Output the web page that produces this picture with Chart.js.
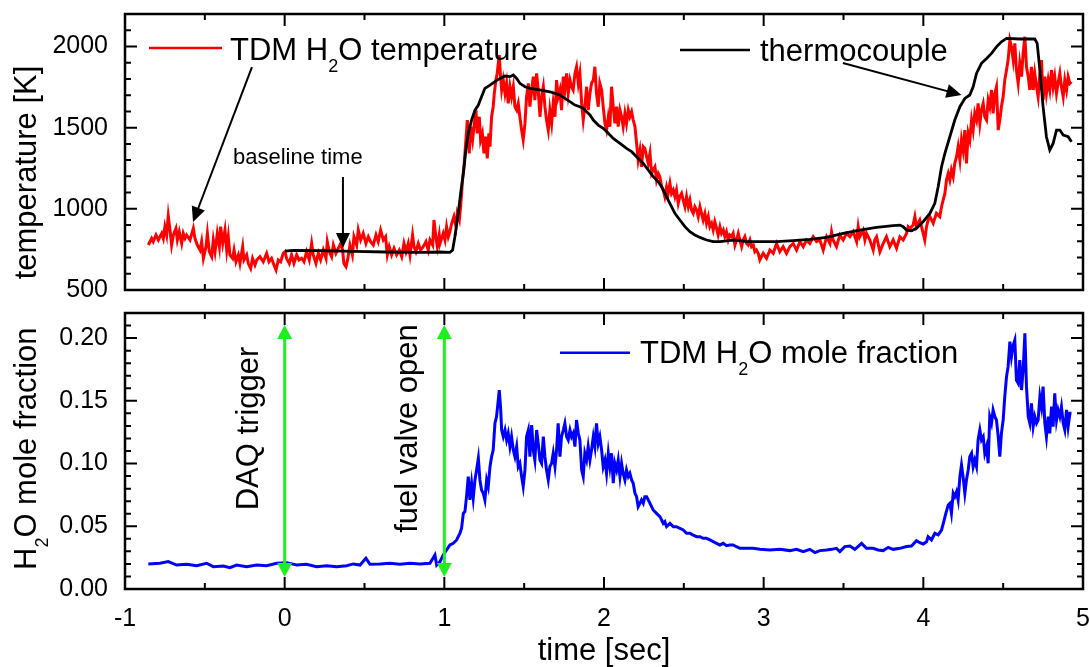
<!DOCTYPE html>
<html>
<head>
<meta charset="utf-8">
<title>TDM H2O temperature and mole fraction</title>
<script src="https://cdn.jsdelivr.net/npm/chart.js@4.4.1/dist/chart.umd.min.js"></script>
<style>
  html, body { margin: 0; padding: 0; background: #fff; }
  #wrap { position: relative; width: 1090px; height: 667px; overflow: hidden; background: #fff; }
  #wrap canvas { position: absolute; left: 0; }
  #tempCanvas { top: 0; }
  #fracCanvas { top: 300px; }
</style>
</head>
<body>
<div id="wrap">
  <canvas id="tempCanvas" width="1090" height="300"></canvas>
  <canvas id="fracCanvas" width="1090" height="367"></canvas>
</div>
<script>
const FONT = '"Liberation Sans", Arial, Helvetica, sans-serif';

// ---- axes ----
const timeRange = [-1, 5];
const timeMajorTicks = [-1, 0, 1, 2, 3, 4, 5];
const timeMinorStep = 0.5;

const tempRange = [500, 2200];
const tempMajorTicks = [500, 1000, 1500, 2000];
const tempMinorStep = 100;

const fracRange = [0, 0.22];
const fracMajorTicks = [0, 0.05, 0.10, 0.15, 0.20];
const fracMinorStep = 0.01;

// ---- series: [time (s), value] ----
const tdmTemperature = [
  [-0.854,777],[-0.833,818],[-0.823,798],[-0.806,839],[-0.791,808],[-0.770,849],[-0.760,818],[-0.750,890],[-0.739,839],[-0.729,956],
  [-0.718,869],[-0.708,777],[-0.697,839],[-0.681,880],[-0.672,808],[-0.660,859],[-0.645,787],[-0.635,849],[-0.624,818],[-0.614,839],
  [-0.593,808],[-0.572,880],[-0.562,818],[-0.547,777],[-0.530,746],[-0.520,798],[-0.509,695],[-0.493,767],[-0.484,849],[-0.472,736],
  [-0.457,705],[-0.447,808],[-0.436,736],[-0.422,849],[-0.409,767],[-0.401,890],[-0.388,787],[-0.374,869],[-0.363,746],[-0.353,828],
  [-0.343,716],[-0.326,695],[-0.317,746],[-0.305,674],[-0.290,716],[-0.280,664],[-0.263,767],[-0.255,685],[-0.238,716],[-0.228,664],
  [-0.213,633],[-0.201,695],[-0.186,654],[-0.175,685],[-0.155,705],[-0.134,674],[-0.113,726],[-0.098,674],[-0.082,695],[-0.067,654],
  [-0.054,623],[-0.040,685],[-0.025,674],[-0.009,726],[0.002,736],[0.012,695],[0.029,664],[0.043,716],[0.058,664],[0.075,716],
  [0.090,685],[0.106,695],[0.121,674],[0.137,736],[0.154,685],[0.169,787],[0.179,716],[0.196,664],[0.211,726],[0.225,685],
  [0.242,746],[0.259,695],[0.267,798],[0.280,736],[0.294,705],[0.305,777],[0.321,726],[0.336,757],[0.351,787],[0.363,746],
  [0.371,664],[0.384,644],[0.394,685],[0.409,777],[0.424,716],[0.434,828],[0.451,777],[0.461,869],[0.476,808],[0.492,849],
  [0.509,787],[0.524,828],[0.538,798],[0.555,777],[0.572,839],[0.586,798],[0.601,869],[0.618,808],[0.632,828],[0.643,716],
  [0.655,767],[0.670,716],[0.685,757],[0.701,716],[0.718,746],[0.733,705],[0.747,787],[0.760,736],[0.774,787],[0.785,716],
  [0.801,839],[0.810,767],[0.822,736],[0.837,787],[0.851,746],[0.868,767],[0.885,798],[0.899,746],[0.910,808],[0.927,777],
  [0.935,931],[0.948,818],[0.956,767],[0.968,839],
  [0.973,787],[0.993,849],[1.004,808],[1.014,890],[1.025,828],[1.035,859],[1.046,911],[1.060,952],[1.073,890],[1.081,972],
  [1.094,931],[1.102,1013],[1.114,1177],[1.123,1259],[1.135,1424],[1.144,1547],[1.156,1342],[1.165,1506],[1.177,1424],[1.188,1526],
  [1.198,1608],[1.206,1465],[1.219,1567],[1.227,1424],[1.238,1465],[1.248,1342],[1.258,1444],[1.269,1311],[1.279,1465],[1.286,1383],
  [1.296,1567],[1.306,1629],[1.313,1711],[1.323,1793],[1.331,1834],[1.338,1896],[1.344,1947],[1.352,1814],[1.359,1732],[1.369,1793],
  [1.380,1711],[1.390,1773],[1.400,1649],[1.411,1752],[1.421,1690],[1.432,1752],[1.442,1629],[1.453,1608],[1.463,1649],[1.473,1567],
  [1.484,1485],[1.494,1424],[1.505,1526],[1.515,1690],[1.526,1773],[1.536,1629],[1.547,1732],[1.557,1814],[1.567,1670],[1.578,1834],
  [1.588,1732],[1.599,1567],[1.609,1690],[1.620,1752],[1.630,1629],[1.640,1547],[1.651,1485],[1.661,1608],[1.672,1526],[1.682,1649],
  [1.693,1567],[1.703,1793],[1.713,1690],[1.724,1732],[1.734,1608],[1.745,1814],[1.755,1732],[1.766,1834],[1.776,1711],[1.787,1793],
  [1.797,1752],[1.807,1732],[1.818,1834],[1.828,1875],[1.839,1773],[1.849,1834],[1.860,1649],[1.870,1547],[1.880,1629],[1.891,1752],
  [1.901,1608],[1.912,1711],[1.922,1773],[1.933,1793],[1.943,1875],[1.953,1711],[1.964,1629],[1.974,1773],[1.985,1732],[1.995,1629],
  [2.006,1526],[2.016,1485],[2.027,1567],[2.037,1506],[2.047,1752],[2.058,1629],[2.068,1526],[2.079,1629],[2.089,1506],[2.100,1608],
  [2.110,1567],[2.120,1506],[2.131,1588],[2.141,1526],[2.152,1608],[2.162,1567],[2.173,1598],[2.183,1547],[2.194,1506],[2.204,1403],
  [2.214,1301],[2.225,1362],[2.235,1259],[2.246,1383],[2.256,1372],[2.267,1321],[2.277,1280],[2.288,1342],[2.298,1218],[2.308,1239],
  [2.319,1259],[2.329,1177],[2.340,1218],[2.350,1198],[2.361,1136],[2.371,1116],[2.381,1075],[2.392,1136],[2.402,1095],[2.413,1157],
  [2.423,1095],[2.434,1116],[2.444,1075],[2.454,1116],[2.465,1034],[2.475,1075],[2.486,1095],[2.496,1054],[2.507,1013],[2.517,1075],
  [2.528,1013],[2.538,1054],[2.548,993],[2.559,972],[2.569,1013],[2.580,993],[2.590,952],[2.601,1013],[2.611,972],[2.621,931],
  [2.632,972],[2.642,911],[2.653,952],[2.663,890],[2.674,911],[2.684,870],[2.694,921],[2.705,880],[2.715,839],[2.726,890],
  [2.736,849],[2.747,870],[2.757,829],[2.767,859],[2.778,808],[2.788,839],[2.799,829],[2.809,849],[2.820,777],[2.830,808],
  [2.841,849],[2.851,808],[2.862,767],[2.872,808],[2.882,829],[2.893,787],[2.903,777],[2.914,808],[2.924,767],[2.935,777],
  [2.945,736],[2.955,746],[2.966,726],
  [2.976,685],[2.997,726],[3.018,695],[3.039,746],[3.060,726],[3.081,787],[3.101,736],[3.122,767],[3.143,726],[3.164,767],
  [3.185,787],[3.206,746],[3.227,798],[3.248,767],[3.268,808],[3.289,787],[3.310,828],[3.331,798],[3.352,808],[3.373,746],
  [3.394,828],[3.415,787],[3.425,859],[3.435,808],[3.456,767],[3.477,839],[3.498,808],[3.519,849],[3.540,828],[3.561,859],
  [3.582,798],[3.592,890],[3.602,828],[3.623,869],[3.634,808],[3.644,849],[3.665,808],[3.686,746],[3.696,808],[3.707,828],
  [3.728,736],[3.749,787],[3.769,828],[3.790,767],[3.811,808],[3.832,757],[3.853,828],[3.874,808],[3.895,849],[3.905,890],
  [3.916,880],[3.936,900],[3.947,952],[3.957,890],[3.978,931],[3.999,849],[4.009,808],[4.020,890],[4.030,931],[4.041,952],
  [4.062,911],[4.082,972],[4.103,952],[4.114,1013],[4.124,1054],[4.135,1095],[4.145,1177],[4.156,1218],[4.166,1177],[4.176,1239],
  [4.187,1198],[4.197,1280],[4.208,1321],[4.218,1383],[4.229,1301],[4.239,1424],[4.249,1362],[4.260,1485],[4.270,1280],[4.281,1465],
  [4.291,1424],[4.302,1547],[4.312,1485],[4.322,1588],[4.333,1547],[4.343,1649],[4.354,1526],[4.364,1608],[4.375,1649],[4.385,1567],
  [4.396,1547],[4.406,1670],[4.416,1629],[4.427,1732],[4.437,1588],[4.448,1711],[4.458,1752],[4.469,1485],[4.479,1547],[4.489,1629],
  [4.500,1690],[4.510,1793],[4.521,1855],[4.531,1916],[4.542,2039],[4.552,1998],[4.563,1916],[4.573,2019],[4.583,1855],[4.594,1773],
  [4.604,1896],[4.615,1814],[4.625,1957],[4.636,2060],[4.646,1875],[4.657,1814],[4.667,1732],[4.677,1875],[4.688,1732],[4.698,1834],
  [4.709,1752],[4.719,1690],[4.730,1834],[4.740,1916],[4.750,1670],[4.761,1814],[4.771,1711],[4.782,1793],[4.792,1732],[4.803,1855],
  [4.813,1752],[4.823,1814],[4.834,1711],[4.844,1773],[4.855,1834],[4.865,1752],[4.876,1690],[4.886,1793],[4.897,1732],[4.907,1814],
  [4.918,1773],[4.928,1783]
];

const thermocouple = [
  [0.002,740],[0.054,744],[0.221,742],[0.430,738],[0.638,734],[0.847,732],[0.973,734],[1.035,732],[1.052,746],[1.066,828],
  [1.087,972],[1.102,1095],[1.119,1218],[1.135,1362],[1.150,1465],[1.171,1547],[1.192,1608],[1.213,1639],[1.233,1690],[1.254,1742],
  [1.286,1762],[1.317,1783],[1.348,1803],[1.380,1818],[1.411,1814],[1.432,1824],[1.453,1803],[1.473,1773],[1.505,1752],[1.536,1742],
  [1.578,1736],[1.620,1728],[1.661,1721],[1.693,1711],[1.724,1701],[1.755,1680],[1.787,1660],[1.818,1639],[1.849,1629],[1.870,1619],
  [1.891,1598],[1.912,1578],[1.933,1547],[1.964,1516],[1.995,1496],[2.027,1465],[2.058,1434],[2.100,1403],[2.141,1372],[2.173,1352],
  [2.204,1321],[2.246,1280],[2.277,1239],[2.308,1198],[2.340,1167],[2.361,1136],[2.381,1095],[2.402,1054],[2.423,1013],[2.444,972],
  [2.475,931],[2.507,890],[2.538,859],[2.569,839],[2.601,824],[2.642,808],[2.684,798],[2.726,798],[2.767,802],[2.809,808],
  [2.851,804],[2.893,798],[2.935,798],[2.976,798],[3.081,798],[3.185,804],[3.289,812],[3.394,824],[3.498,849],[3.602,869],
  [3.707,886],[3.811,896],[3.853,900],[3.874,890],[3.895,869],[3.926,865],[3.957,880],[3.999,921],[4.041,972],[4.072,1034],
  [4.093,1136],[4.114,1259],[4.135,1342],[4.166,1444],[4.197,1547],[4.229,1629],[4.260,1680],[4.291,1701],[4.312,1752],[4.333,1834],
  [4.364,1896],[4.396,1926],[4.427,1957],[4.458,1998],[4.489,2029],[4.521,2050],[4.604,2046],[4.698,2046],[4.713,2019],[4.730,1855],
  [4.750,1629],[4.771,1444],[4.792,1362],[4.813,1403],[4.834,1485],[4.855,1485],[4.876,1454],[4.907,1444],[4.928,1413]
];

const h2oFraction = [
  [-0.854,0.0200],[-0.781,0.0205],[-0.729,0.0218],[-0.676,0.0191],[-0.614,0.0197],[-0.551,0.0186],[-0.489,0.0205],[-0.447,0.0178],
  [-0.384,0.0183],[-0.343,0.0170],[-0.301,0.0191],[-0.238,0.0178],[-0.175,0.0191],[-0.113,0.0186],[-0.050,0.0205],[0.012,0.0210],
  [0.075,0.0191],[0.137,0.0197],[0.200,0.0178],[0.263,0.0186],[0.325,0.0178],[0.388,0.0186],[0.430,0.0200],[0.472,0.0191],
  [0.509,0.0245],[0.534,0.0197],[0.597,0.0200],[0.659,0.0205],[0.722,0.0197],[0.785,0.0205],[0.847,0.0200],[0.910,0.0205],
  [0.941,0.0271],[0.952,0.0191],
  [0.973,0.0218],[0.993,0.0271],[1.014,0.0311],[1.035,0.0351],[1.056,0.0364],[1.077,0.0391],[1.098,0.0444],[1.108,0.0484],
  [1.119,0.0603],[1.129,0.0617],[1.139,0.0736],[1.150,0.0896],[1.160,0.0710],[1.171,0.0843],[1.181,0.0723],[1.192,0.0869],
  [1.202,0.0949],[1.213,0.1042],[1.223,0.0869],[1.233,0.0789],[1.244,0.0763],[1.254,0.0710],[1.265,0.0869],[1.275,0.0816],
  [1.286,0.0975],[1.296,0.1055],[1.306,0.1108],[1.317,0.1321],[1.327,0.1374],[1.338,0.1507],[1.344,0.1586],[1.352,0.1453],
  [1.359,0.1267],[1.369,0.1214],[1.380,0.1267],[1.390,0.1188],[1.400,0.1241],[1.411,0.1135],[1.421,0.1214],[1.432,0.1108],
  [1.442,0.1055],[1.453,0.1135],[1.463,0.0975],[1.473,0.1002],[1.484,0.0896],[1.494,0.0816],[1.505,0.0949],[1.515,0.1214],
  [1.526,0.1267],[1.536,0.1055],[1.547,0.1307],[1.557,0.1108],[1.567,0.1028],[1.578,0.1267],[1.588,0.1161],[1.599,0.1028],
  [1.609,0.1002],[1.620,0.1214],[1.630,0.1055],[1.640,0.0949],[1.651,0.0869],[1.661,0.0975],[1.672,0.1002],[1.682,0.1082],
  [1.693,0.0975],[1.703,0.1108],[1.713,0.1321],[1.724,0.1055],[1.734,0.1214],[1.745,0.1267],[1.755,0.1321],[1.766,0.1214],
  [1.776,0.1188],[1.787,0.1267],[1.797,0.1214],[1.807,0.1241],[1.818,0.1135],[1.828,0.1347],[1.839,0.1241],[1.849,0.1188],
  [1.860,0.0949],[1.870,0.0896],[1.880,0.1082],[1.891,0.1028],[1.901,0.1135],[1.912,0.1028],[1.922,0.1108],[1.933,0.1214],
  [1.943,0.1135],[1.953,0.1321],[1.964,0.1161],[1.974,0.1214],[1.985,0.1108],[1.995,0.0975],[2.006,0.1028],[2.016,0.0922],
  [2.027,0.1082],[2.037,0.0975],[2.047,0.1082],[2.058,0.0843],[2.068,0.1002],[2.079,0.0949],[2.089,0.1028],[2.100,0.0896],
  [2.110,0.1002],[2.120,0.0922],[2.131,0.0869],[2.141,0.0949],[2.152,0.0896],[2.162,0.0922],[2.173,0.0869],[2.183,0.0843],
  [2.194,0.0763],[2.204,0.0736],[2.214,0.0656],[2.225,0.0683],[2.235,0.0710],[2.246,0.0683],[2.256,0.0736],[2.267,0.0736],
  [2.277,0.0710],[2.288,0.0683],[2.298,0.0656],[2.308,0.0630],[2.329,0.0603],[2.350,0.0577],[2.361,0.0550],[2.371,0.0523],
  [2.381,0.0537],[2.392,0.0497],[2.413,0.0523],[2.434,0.0497],[2.454,0.0497],[2.475,0.0484],[2.496,0.0470],[2.517,0.0444],
  [2.538,0.0444],[2.559,0.0430],[2.580,0.0417],[2.601,0.0417],[2.621,0.0404],[2.642,0.0404],[2.663,0.0391],[2.684,0.0377],
  [2.705,0.0364],[2.726,0.0351],[2.747,0.0364],[2.767,0.0345],[2.788,0.0351],[2.809,0.0351],[2.830,0.0337],[2.851,0.0324],
  [2.872,0.0324],[2.893,0.0324],[2.935,0.0324],
  [2.976,0.0316],[3.039,0.0311],[3.101,0.0316],[3.164,0.0306],[3.206,0.0316],[3.248,0.0298],[3.289,0.0316],[3.321,0.0290],
  [3.352,0.0306],[3.394,0.0311],[3.425,0.0316],[3.456,0.0324],[3.477,0.0298],[3.508,0.0338],[3.540,0.0343],[3.571,0.0316],
  [3.613,0.0364],[3.644,0.0324],[3.686,0.0324],[3.717,0.0311],[3.749,0.0306],[3.780,0.0332],[3.811,0.0316],[3.853,0.0324],
  [3.895,0.0338],[3.926,0.0343],[3.957,0.0385],[3.978,0.0369],[3.999,0.0359],[4.020,0.0377],[4.030,0.0417],[4.051,0.0391],
  [4.072,0.0444],[4.093,0.0431],[4.114,0.0470],[4.128,0.0537],[4.141,0.0603],[4.156,0.0670],[4.166,0.0683],[4.176,0.0603],
  [4.187,0.0763],[4.197,0.0736],[4.208,0.0776],[4.218,0.0710],[4.229,0.0896],[4.239,0.0989],[4.249,0.0896],[4.260,0.0763],
  [4.270,0.0869],[4.281,0.0949],[4.291,0.1055],[4.302,0.1082],[4.312,0.0975],[4.322,0.1028],[4.333,0.0975],[4.343,0.1188],
  [4.354,0.1268],[4.364,0.1188],[4.375,0.1214],[4.385,0.1082],[4.396,0.1135],[4.406,0.1002],[4.416,0.1374],[4.427,0.1321],
  [4.437,0.1427],[4.448,0.1374],[4.458,0.1347],[4.469,0.1214],[4.479,0.1055],[4.489,0.1241],[4.500,0.1347],[4.510,0.1533],
  [4.521,0.1693],[4.531,0.1772],[4.542,0.1972],[4.552,0.1852],[4.563,0.1945],[4.573,0.1985],[4.583,0.1666],[4.594,0.1640],
  [4.604,0.1825],[4.615,0.1586],[4.625,0.1746],[4.636,0.2038],[4.646,0.1613],[4.657,0.1374],[4.667,0.1321],[4.677,0.1480],
  [4.688,0.1294],[4.698,0.1374],[4.709,0.1321],[4.719,0.1347],[4.730,0.1533],[4.740,0.1453],[4.750,0.1613],[4.761,0.1321],
  [4.771,0.1214],[4.782,0.1374],[4.792,0.1241],[4.803,0.1453],[4.813,0.1294],[4.823,0.1560],[4.834,0.1347],[4.844,0.1427],
  [4.855,0.1374],[4.865,0.1453],[4.876,0.1321],[4.886,0.1268],[4.897,0.1427],[4.907,0.1294],[4.918,0.1400],[4.928,0.1400]
];

// ---- event markers and callouts ----
const eventTimes = [0, 1];
const eventLabels = ['DAQ trigger', 'fuel valve open'];
const eventSpan = [0.0096, 0.2104];          // mole-fraction extent of the double arrows

const tempCallouts = [
  { from: [-0.205, 1873], to: [-0.574, 919] },   // legend -> TDM trace
  { from: [0.365, 1196],  to: [0.365, 759] },    // baseline time
  { from: [3.496, 1898],  to: [4.239, 1701] }    // legend -> thermocouple trace
];

Chart.defaults.font.family = FONT;
Chart.defaults.color = '#000';

const toXY = pairs => pairs.map(([x, y]) => ({ x, y }));

// ---- drawing helpers ----
function richText(ctx, x, y, parts) {
  for (const [txt, size, dy] of parts) {
    ctx.font = size + 'px ' + FONT;
    ctx.fillText(txt, x, y + (dy || 0));
    x += ctx.measureText(txt).width;
  }
}

function drawArrow(ctx, x1, y1, x2, y2, color, width, headLen, headHalf, twoHeads) {
  const dx = x2 - x1, dy = y2 - y1, L = Math.hypot(dx, dy);
  const ux = dx / L, uy = dy / L;
  ctx.save();
  ctx.strokeStyle = color; ctx.fillStyle = color; ctx.lineWidth = width;
  const sx = twoHeads ? x1 + ux * headLen * 0.8 : x1;
  const sy = twoHeads ? y1 + uy * headLen * 0.8 : y1;
  ctx.beginPath();
  ctx.moveTo(sx, sy);
  ctx.lineTo(x2 - ux * headLen * 0.8, y2 - uy * headLen * 0.8);
  ctx.stroke();
  const head = (tx, ty, vx, vy) => {
    ctx.beginPath();
    ctx.moveTo(tx, ty);
    ctx.lineTo(tx - vx * headLen - vy * headHalf, ty - vy * headLen + vx * headHalf);
    ctx.lineTo(tx - vx * headLen + vy * headHalf, ty - vy * headLen - vx * headHalf);
    ctx.closePath();
    ctx.fill();
  };
  head(x2, y2, ux, uy);
  if (twoHeads) head(x1, y1, -ux, -uy);
  ctx.restore();
}

// frame with inward major/minor ticks on all four sides
function frameAndTicks(yRange, yStep, yMajorEvery) {
  return {
    id: 'frameAndTicks',
    afterDatasetsDraw(chart) {
      const { ctx, chartArea: a, scales: { x, y } } = chart;
      ctx.save();
      ctx.strokeStyle = '#000';
      ctx.lineWidth = 2;
      ctx.beginPath();
      const nx = Math.round((timeRange[1] - timeRange[0]) / timeMinorStep);
      for (let i = 0; i <= nx; i++) {
        const px = x.getPixelForValue(timeRange[0] + i * timeMinorStep);
        const len = (i % 2 === 0) ? 12 : 6;
        ctx.moveTo(px, a.bottom); ctx.lineTo(px, a.bottom - len);
        ctx.moveTo(px, a.top); ctx.lineTo(px, a.top + len);
      }
      const ny = Math.round((yRange[1] - yRange[0]) / yStep);
      for (let i = 0; i <= ny; i++) {
        const py = y.getPixelForValue(yRange[0] + i * yStep);
        const len = (i % yMajorEvery === 0) ? 12 : 6;
        ctx.moveTo(a.left, py); ctx.lineTo(a.left + len, py);
        ctx.moveTo(a.right, py); ctx.lineTo(a.right - len, py);
      }
      ctx.stroke();
      ctx.lineWidth = 2.5;
      ctx.strokeRect(a.left, a.top, a.right - a.left, a.bottom - a.top);
      ctx.restore();
    }
  };
}

function timeScale(withLabels) {
  return {
    type: 'linear', min: timeRange[0], max: timeRange[1],
    afterBuildTicks: s => { s.ticks = timeMajorTicks.map(v => ({ value: v })); },
    ticks: { display: withLabels, autoSkip: false, maxRotation: 0, padding: 15, font: { size: 25 }, callback: v => String(v) },
    grid: { display: false, drawTicks: false },
    border: { display: false },
    title: withLabels
      ? { display: true, text: 'time [sec]', font: { size: 31, lineHeight: 1 }, padding: { top: 0, bottom: 0 } }
      : { display: false },
    afterFit: s => { s.height = withLabels ? 78 : 10; s.paddingLeft = 0; s.paddingRight = 0; }
  };
}

function valueScale(range, majors, fmt) {
  return {
    type: 'linear', min: range[0], max: range[1],
    afterBuildTicks: s => { s.ticks = majors.map(v => ({ value: v })); },
    ticks: { autoSkip: false, padding: 17, font: { size: 25 }, callback: fmt },
    grid: { display: false, drawTicks: false },
    border: { display: false },
    afterFit: s => { s.width = 125; s.paddingTop = 0; s.paddingBottom = 0; }
  };
}

const lineStyle = (color, width) => ({
  borderColor: color, backgroundColor: color, borderWidth: width,
  pointRadius: 0, tension: 0, fill: false
});

// ---- temperature panel ----
new Chart(document.getElementById('tempCanvas'), {
  type: 'line',
  data: {
    datasets: [
      Object.assign({ label: 'thermocouple', data: toXY(thermocouple) }, lineStyle('#000000', 2.8)),
      Object.assign({ label: 'TDM H2O temperature', data: toXY(tdmTemperature) }, lineStyle('#ff0000', 3))
    ]
  },
  options: {
    responsive: false, animation: false, devicePixelRatio: 1, events: [],
    layout: { padding: { top: 14, right: 7, bottom: 0, left: 0 } },
    plugins: { legend: { display: false }, tooltip: { enabled: false } },
    scales: {
      x: timeScale(false),
      y: valueScale(tempRange, tempMajorTicks, v => String(v))
    }
  },
  plugins: [
    frameAndTicks(tempRange, tempMinorStep, 5),
    {
      id: 'tempNotes',
      afterDraw(chart) {
        const { ctx, chartArea: a, scales: { x, y } } = chart;
        ctx.save();
        ctx.textBaseline = 'alphabetic';
        ctx.textAlign = 'left';
        ctx.fillStyle = '#000';

        // legend entries
        ctx.lineWidth = 2.5;
        ctx.strokeStyle = '#ff0000';
        ctx.beginPath(); ctx.moveTo(a.left + 24, a.top + 34); ctx.lineTo(a.left + 97, a.top + 34); ctx.stroke();
        richText(ctx, a.left + 105, a.top + 45.5, [['TDM H', 31], ['2', 18, 12], ['O temperature', 31]]);

        ctx.strokeStyle = '#000000';
        ctx.beginPath(); ctx.moveTo(a.left + 555, a.top + 36); ctx.lineTo(a.left + 625, a.top + 36); ctx.stroke();
        richText(ctx, a.left + 635, a.top + 47, [['thermocouple', 31]]);

        richText(ctx, a.left + 108, a.top + 150, [['baseline time', 22]]);

        for (const c of tempCallouts) {
          drawArrow(ctx,
            x.getPixelForValue(c.from[0]), y.getPixelForValue(c.from[1]),
            x.getPixelForValue(c.to[0]), y.getPixelForValue(c.to[1]),
            '#000', 2, 15, 7, false);
        }

        // y-axis title
        ctx.save();
        ctx.translate(36, a.top + 158.5);
        ctx.rotate(-Math.PI / 2);
        ctx.textAlign = 'center';
        ctx.font = '31px ' + FONT;
        ctx.fillText('temperature [K]', 0, 0);
        ctx.restore();

        ctx.restore();
      }
    }
  ]
});

// ---- mole fraction panel ----
new Chart(document.getElementById('fracCanvas'), {
  type: 'line',
  data: {
    datasets: [
      Object.assign({ label: 'TDM H2O mole fraction', data: toXY(h2oFraction) }, lineStyle('#0000ff', 3))
    ]
  },
  options: {
    responsive: false, animation: false, devicePixelRatio: 1, events: [],
    layout: { padding: { top: 13, right: 7, bottom: 0, left: 0 } },
    plugins: { legend: { display: false }, tooltip: { enabled: false } },
    scales: {
      x: timeScale(true),
      y: valueScale(fracRange, fracMajorTicks, v => Number(v).toFixed(2))
    }
  },
  plugins: [
    frameAndTicks(fracRange, fracMinorStep, 5),
    {
      id: 'fracNotes',
      afterDraw(chart) {
        const { ctx, chartArea: a, scales: { x, y } } = chart;
        ctx.save();
        ctx.textBaseline = 'alphabetic';
        ctx.textAlign = 'left';
        ctx.fillStyle = '#000';

        // legend entry
        ctx.lineWidth = 2.5;
        ctx.strokeStyle = '#0000ff';
        ctx.beginPath(); ctx.moveTo(a.left + 435, a.top + 39.7); ctx.lineTo(a.left + 505, a.top + 39.7); ctx.stroke();
        richText(ctx, a.left + 515, a.top + 50.3, [['TDM H', 31], ['2', 18, 12], ['O mole fraction', 31]]);

        // event markers
        eventTimes.forEach((t, i) => {
          const px = x.getPixelForValue(t);
          drawArrow(ctx, px, y.getPixelForValue(eventSpan[1]), px, y.getPixelForValue(eventSpan[0]),
            '#1ef01e', 3, 14, 7.5, true);
          ctx.save();
          ctx.translate(px - 27, a.top + 115.5);
          ctx.rotate(-Math.PI / 2);
          ctx.textAlign = 'center';
          ctx.fillStyle = '#000';
          ctx.font = '31px ' + FONT;
          ctx.fillText(eventLabels[i], 0, 0);
          ctx.restore();
        });

        // y-axis title
        ctx.save();
        ctx.translate(35.5, a.bottom - 19);
        ctx.rotate(-Math.PI / 2);
        ctx.textAlign = 'left';
        richText(ctx, 0, 0, [['H', 31], ['2', 18, 12], ['O mole fraction', 31]]);
        ctx.restore();

        ctx.restore();
      }
    }
  ]
});
</script>
</body>
</html>
